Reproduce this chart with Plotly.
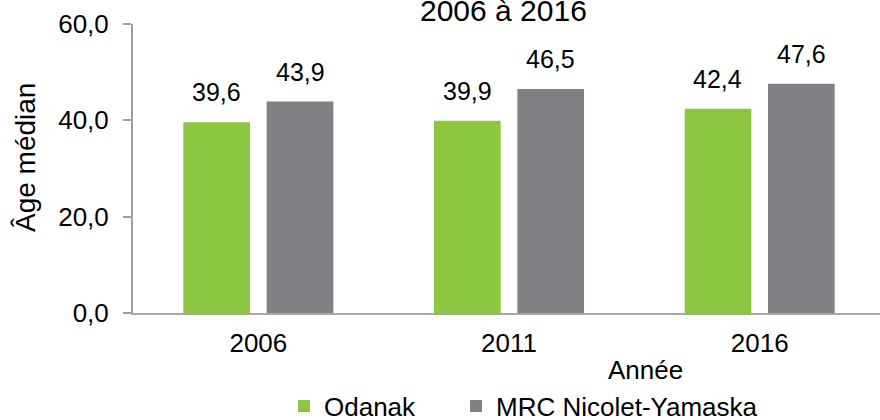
import plotly.graph_objects as go

categories = ["2006", "2011", "2016"]
odanak = [39.6, 39.9, 42.4]
mrc = [43.9, 46.5, 47.6]
series_names = ["Odanak", "MRC Nicolet-Yamaska"]
y_ticks = [0, 20, 40, 60]
title_text = "2006 à 2016"
y_title = "Âge médian"
x_title = "Année"

GREEN = "#8DC63F"
GREY = "#808184"
FONT = "Liberation Sans, Arial, sans-serif"
FS = 26

W, H = 880, 420
ML, MR, MT, MB = 133, 0, 24, 107
PW, PH = W - ML - MR, H - MT - MB


def px_x(p):
    return (p - ML) / PW


def px_y(p):
    return (H - MB - p) / PH


def fmt(v):
    return f"{v:.1f}".replace(".", ",")


fig = go.Figure()
fig.add_trace(go.Bar(name=series_names[0], x=categories, y=odanak,
                     marker=dict(color=GREEN, line=dict(width=0)),
                     legend="legend"))
fig.add_trace(go.Bar(name=series_names[1], x=categories, y=mrc,
                     marker=dict(color=GREY, line=dict(width=0)),
                     legend="legend2"))

half = 0.1664
annotations = []
for i, (a, b) in enumerate(zip(odanak, mrc)):
    annotations.append(dict(x=i - half, y=a, xref="x", yref="y", text=fmt(a),
                            showarrow=False, yanchor="middle", yshift=30,
                            font=dict(size=25, color="#000")))
    annotations.append(dict(x=i + half, y=b, xref="x", yref="y", text=fmt(b),
                            showarrow=False, yanchor="middle", yshift=30,
                            font=dict(size=25, color="#000")))

annotations.append(dict(x=px_x(503), y=px_y(10.5), xref="paper", yref="paper",
                        text=title_text, showarrow=False, xanchor="center",
                        yanchor="middle", font=dict(size=30, color="#000")))
annotations.append(dict(x=px_x(25), y=px_y(158), xref="paper", yref="paper",
                        text=y_title, showarrow=False, textangle=-90,
                        xanchor="center", yanchor="middle",
                        font=dict(size=28, color="#000")))
annotations.append(dict(x=px_x(645), y=px_y(370), xref="paper", yref="paper",
                        text=x_title, showarrow=False, xanchor="center",
                        yanchor="middle", font=dict(size=FS, color="#000")))

legend_common = dict(orientation="h", xanchor="left", yanchor="middle",
                     font=dict(size=FS), bgcolor="rgba(0,0,0,0)")

fig.update_layout(
    width=W, height=H,
    margin=dict(l=ML, r=MR, t=MT, b=MB, pad=0, autoexpand=False),
    paper_bgcolor="white", plot_bgcolor="white",
    font=dict(family=FONT, size=FS, color="#000"),
    separators=", ",
    barmode="group", bargap=0.335, bargroupgap=0.2,
    showlegend=True,
    legend=dict(x=px_x(284), y=px_y(406), **legend_common),
    legend2=dict(x=px_x(456), y=px_y(406), **legend_common),
    annotations=annotations,
)
fig.update_xaxes(type="category", range=[-0.5, 2.48], showgrid=False,
                 showline=True, linecolor="#A6A6A6", linewidth=2,
                 ticks="", ticklabelstandoff=6, zeroline=False)
fig.update_yaxes(range=[0, 60], tickvals=y_ticks, tickformat=".1f",
                 showgrid=False, showline=True, linecolor="#A0A0A0",
                 linewidth=2, ticks="outside", ticklen=8, tickcolor="#A0A0A0",
                 tickwidth=2, ticklabelstandoff=9, zeroline=False)

fig.write_html("out.html", config={"displayModeBar": False},
               post_script="document.body.style.margin='0';document.body.style.overflow='hidden';")
